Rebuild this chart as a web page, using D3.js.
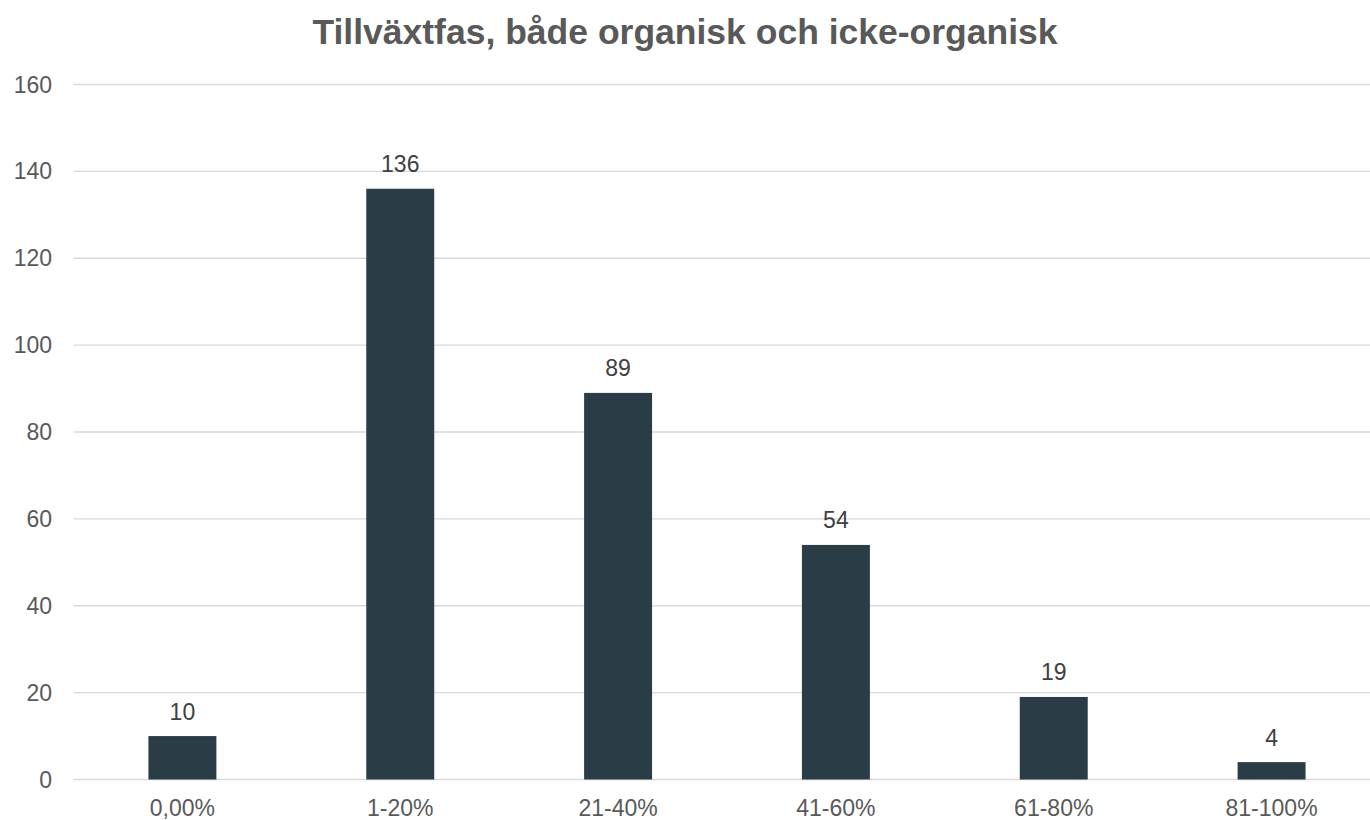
<!DOCTYPE html>
<html>
<head>
<meta charset="utf-8">
<script src="https://cdn.jsdelivr.net/npm/d3@7"></script>
<style>
  body { margin: 0; background: #fff; }
  text { font-family: Arial, "Liberation Sans", sans-serif; }
</style>
</head>
<body>
<svg width="1370" height="820"></svg>
<script>
const categories = ["0,00%", "1-20%", "21-40%", "41-60%", "61-80%", "81-100%"];
const values = [10, 136, 89, 54, 19, 4];
const yTicks = [0, 20, 40, 60, 80, 100, 120, 140, 160];
const title = "Tillväxtfas, både organisk och icke-organisk";

const svg = d3.select("svg");

// plot area (right side runs past the picture edge, as in the original)
const plot = {left: 73.5, right: 1380.5, top: 84.5, bottom: 779.5};

const x = d3.scaleBand()
  .domain(categories)
  .range([plot.left, plot.right])
  .paddingInner(0.688)
  .paddingOuter(0.344);

const y = d3.scaleLinear().domain([0, 160]).range([plot.bottom, plot.top]);

// gridlines
svg.append("g")
  .selectAll("line")
  .data(yTicks)
  .join("line")
  .attr("x1", plot.left)
  .attr("x2", plot.right)
  .attr("y1", d => y(d))
  .attr("y2", d => y(d))
  .attr("stroke", "#d9d9d9")
  .attr("stroke-width", 1.3);

// y labels
svg.append("g")
  .selectAll("text")
  .data(yTicks)
  .join("text")
  .attr("x", 52)
  .attr("y", d => y(d))
  .attr("dy", "0.35em")
  .attr("text-anchor", "end")
  .attr("fill", "#595959")
  .style("font-size", "23px")
  .text(d => d);

// bars
svg.append("g")
  .selectAll("rect")
  .data(values)
  .join("rect")
  .attr("x", (d, i) => x(categories[i]))
  .attr("width", x.bandwidth())
  .attr("y", d => y(d))
  .attr("height", d => y(0) - y(d))
  .attr("fill", "#2a3d47");

// value labels
svg.append("g")
  .selectAll("text")
  .data(values)
  .join("text")
  .attr("x", (d, i) => x(categories[i]) + x.bandwidth() / 2)
  .attr("y", d => y(d) - 16.5)
  .attr("text-anchor", "middle")
  .attr("fill", "#404040")
  .style("font-size", "23px")
  .text(d => d);

// x labels
svg.append("g")
  .selectAll("text")
  .data(categories)
  .join("text")
  .attr("x", d => x(d) + x.bandwidth() / 2)
  .attr("y", 816)
  .attr("text-anchor", "middle")
  .attr("fill", "#595959")
  .style("font-size", "23px")
  .text(d => d);

// title
svg.append("text")
  .attr("x", 685)
  .attr("y", 44)
  .attr("text-anchor", "middle")
  .attr("fill", "#595959")
  .style("font-size", "35.5px")
  .style("font-weight", "bold")
  .text(title);
</script>
</body>
</html>
